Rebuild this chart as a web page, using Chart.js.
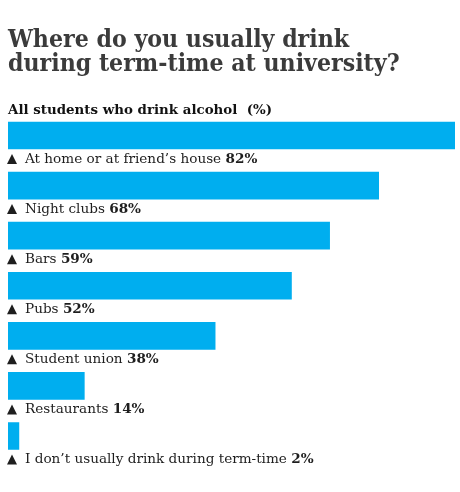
<!DOCTYPE html>
<html>
<head>
<meta charset="utf-8">
<script src="https://cdn.jsdelivr.net/npm/chart.js@4.4.1/dist/chart.umd.min.js"></script>
<style>
  html, body { margin: 0; padding: 0; background: #fff; }
  #wrap { width: 460px; height: 492px; position: relative; }
</style>
</head>
<body>
<div id="wrap"><canvas id="chart"></canvas></div>
<script>
// values
const titleLines = ["Where do you usually drink", "during term-time at university?"];
const subtitleText = "All students who drink alcohol  (%)";
const places = [
    "At home or at friend\u2019s house",
    "Night clubs",
    "Bars",
    "Pubs",
    "Student union",
    "Restaurants",
    "I don\u2019t usually drink during term-time"
];
const shares = [82, 68, 59, 52, 38, 14, 2];

const serif = "'DejaVu Serif', 'Liberation Serif', serif";
const titleSerif = "'DejaVu Serif Condensed', 'DejaVu Serif', serif";

// writes "▲ Name NN%" under each bar
const labelsUnderBars = {
    id: "labelsUnderBars",
    afterDatasetsDraw(chart) {
        const ctx = chart.ctx;
        const meta = chart.getDatasetMeta(0);
        ctx.save();
        ctx.fillStyle = "#1e1e1e";
        ctx.textBaseline = "middle";
        meta.data.forEach((bar, i) => {
            const y = bar.y + bar.height / 2 + 10;
            const x = bar.base;
            // small triangle
            ctx.beginPath();
            ctx.moveTo(x - 1, y + 5);
            ctx.lineTo(x + 9, y + 5);
            ctx.lineTo(x + 4, y - 5);
            ctx.closePath();
            ctx.fill();
            ctx.font = "13.6px " + serif;
            const name = places[i] + " ";
            ctx.fillText(name, x + 17, y);
            const w = ctx.measureText(name).width;
            ctx.font = "bold 13.6px " + serif;
            ctx.fillText(shares[i] + "%", x + 17 + w, y);
        });
        ctx.restore();
    }
};

const ctx = document.getElementById("chart").getContext("2d");

const chart = new Chart(ctx, {
    type: "bar",
    data: {
        labels: places,
        datasets: [{
            data: shares,
            backgroundColor: "#00aeef",
            borderWidth: 0,
            barThickness: 27
        }]
    },
    options: {
        indexAxis: "y",
        animation: false,
        responsive: true,
        maintainAspectRatio: false,
        layout: { padding: { left: 8, right: 5, bottom: 31, top: 0 } },
        scales: {
            x: { display: false, min: 0, max: 82 },
            y: { display: false }
        },
        plugins: {
            legend: { display: false },
            tooltip: { enabled: false },
            title: {
                display: true,
                text: titleLines,
                align: "start",
                color: "#3b3b3b",
                font: { family: titleSerif, size: 24.6, weight: "bold", lineHeight: 1 },
                padding: { top: 28, bottom: 0 }
            },
            subtitle: {
                display: true,
                text: subtitleText,
                align: "start",
                color: "#111",
                font: { family: serif, size: 13.4, weight: "bold", lineHeight: 1 },
                padding: { top: 26.4, bottom: -6.5 }
            }
        }
    },
    plugins: [labelsUnderBars]
});
</script>
</body>
</html>
